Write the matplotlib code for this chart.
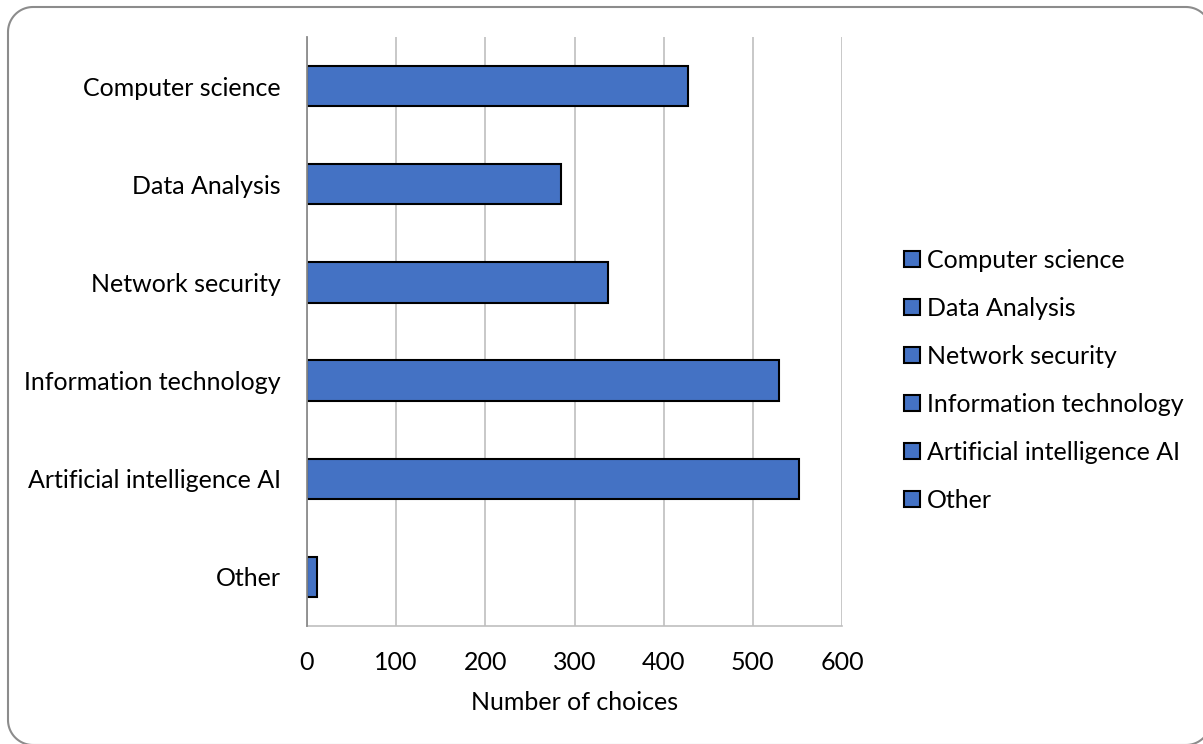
import matplotlib
matplotlib.use("Agg")
import matplotlib.pyplot as plt
import numpy as np

# data
categories = ["Computer science", "Data Analysis", "Network security",
              "Information technology", "Artificial intelligence AI", "Other"]
choices = [427, 285, 338, 529, 552, 11]
xticks = [0, 100, 200, 300, 400, 500, 600]

W, H = 1203, 744
plt.rcParams['font.family'] = ['Lato', 'DejaVu Sans']
FS = 18

fig = plt.figure(figsize=(W / 100, H / 100), dpi=100)

# background axes in pixel units (y down) for the rounded chart border
bg = fig.add_axes([0, 0, 1, 1])
bg.set_xlim(0, W)
bg.set_ylim(H, 0)
bg.axis("off")
r = 25
left, top, right, bottom = 8, 7, 1211, 745
corners = [(right - r, bottom - r, 0), (left + r, bottom - r, 90),
           (left + r, top + r, 180), (right - r, top + r, 270)]
bx, by = [], []
for cx, cy, a0 in corners:
    t = np.radians(np.linspace(a0, a0 + 90, 20))
    bx.extend(cx + r * np.cos(t))
    by.extend(cy + r * np.sin(t))
bx.append(bx[0])
by.append(by[0])
bg.plot(bx, by, color="#8c8c8c", linewidth=1.5)

ax = fig.add_axes([307 / W, 1 - 626 / H, (842 - 307) / W, (626 - 37) / H])

bars = ax.barh(range(len(categories)), choices, height=0.41,
               color="#4472C4", edgecolor="black", linewidth=1.5, zorder=3)
ax.set_ylim(len(categories) - 0.5, -0.5)
ax.set_yticks(range(len(categories)))
ax.set_yticklabels(categories)
ax.set_xlim(0, 600)
ax.set_xticks(xticks)
ax.tick_params(axis="both", length=0, labelsize=FS, colors="black")
ax.tick_params(axis="x", pad=18)
ax.tick_params(axis="y", pad=19)
ax.grid(axis="x", color="#bfbfbf", linewidth=1.2, zorder=0)
for s in ("top", "right"):
    ax.spines[s].set_visible(False)
ax.spines["left"].set_color("#8c8c8c")
ax.spines["left"].set_linewidth(1.3)
ax.spines["left"].set_zorder(4)
ax.spines["bottom"].set_color("#bfbfbf")
ax.spines["bottom"].set_linewidth(1.2)
ax.set_xlabel("Number of choices", fontsize=FS, labelpad=12)

fig.legend(list(bars.patches), categories, loc="center left",
           bbox_to_anchor=(904 / W, 1 - 380 / H), frameon=False, fontsize=FS,
           handlelength=0.62, handleheight=0.62, handletextpad=0.3,
           labelspacing=1.0, borderpad=0, borderaxespad=0)

fig.savefig("out.png", dpi=100)
